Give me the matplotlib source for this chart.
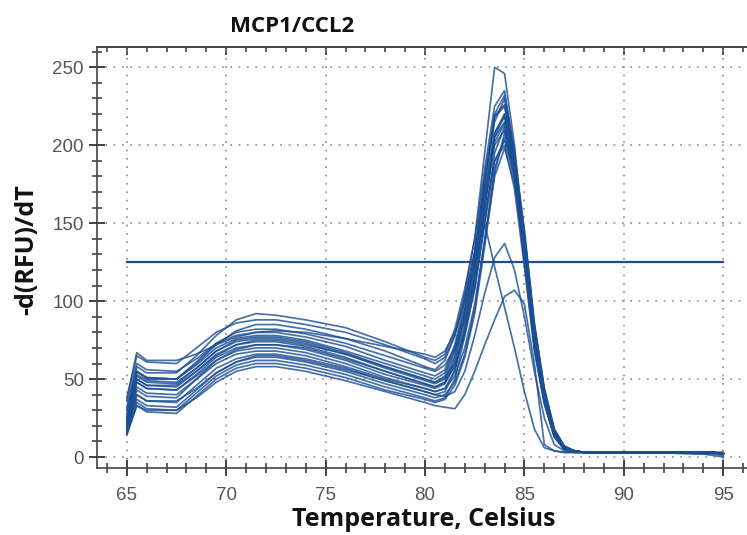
import matplotlib
matplotlib.use("Agg")
import matplotlib.pyplot as plt
from matplotlib.ticker import MultipleLocator

title = "MCP1/CCL2"
xlabel = "Temperature, Celsius"
ylabel = "-d(RFU)/dT"
threshold = 125

temps = [65, 65.5, 66, 67.5, 68.5, 69.5, 70.5, 71.5, 72.5, 74, 76, 78, 80, 80.5, 81,
         81.5, 82, 82.5, 83, 83.5, 84, 84.5, 85, 85.5, 86, 86.5, 87, 87.5, 88, 91, 94, 94.5, 95]

c1 = [38, 67, 62, 62, 66, 72, 77, 80, 81, 80, 76, 71, 66, 64, 68, 80, 100, 130, 175, 215, 230, 190, 140, 82, 42, 17, 7, 4, 3, 3, 3, 3, 2]
c2 = [30, 58, 54, 54, 65, 78, 88, 92, 91, 88, 83, 74, 64, 62, 66, 82, 108, 140, 185, 225, 235, 195, 130, 72, 36, 14, 6, 4, 3, 3, 3, 3, 2]
c3 = [25, 55, 50, 50, 60, 72, 81, 85, 85, 82, 76, 68, 58, 56, 62, 78, 105, 140, 195, 250, 246, 200, 135, 75, 38, 15, 6, 4, 3, 3, 3, 3, 2]
c4 = [22, 50, 46, 46, 55, 65, 72, 75, 75, 72, 66, 58, 50, 48, 52, 68, 95, 125, 150, 122, 96, 70, 42, 18, 6, 4, 3, 3, 3, 3, 3, 3, 2]
c5 = [18, 40, 36, 36, 44, 54, 61, 65, 65, 62, 56, 49, 42, 40, 39, 42, 55, 78, 105, 128, 137, 120, 90, 55, 25, 8, 4, 3, 3, 3, 3, 3, 2]
c6 = [15, 33, 30, 30, 38, 48, 55, 58, 58, 55, 49, 42, 35, 33, 32, 31, 40, 55, 72, 88, 103, 107, 98, 60, 8, 4, 3, 3, 3, 3, 2, 1, 0]
c7 = [36, 65, 61, 60, 70, 80, 86, 88, 88, 85, 80, 72, 63, 60, 64, 78, 102, 132, 178, 218, 225, 192, 145, 85, 44, 18, 7, 4, 3, 3, 3, 3, 2]
c8 = [28, 55, 51, 50, 61, 73, 80, 82, 82, 79, 73, 65, 57, 55, 59, 70, 88, 115, 160, 205, 220, 188, 138, 80, 40, 16, 6, 4, 3, 3, 3, 3, 2]
c9 = [24, 55, 51, 50, 59, 70, 76, 78, 78, 75, 68, 60, 52, 50, 54, 70, 95, 126, 168, 205, 215, 182, 126, 70, 35, 13, 5, 4, 3, 3, 3, 3, 3]
c10 = [26, 53, 49, 48, 57, 68, 74, 76, 76, 73, 66, 57, 49, 47, 50, 65, 92, 124, 170, 208, 218, 190, 142, 84, 42, 17, 7, 4, 3, 3, 3, 3, 2]
c11 = [20, 50, 46, 45, 55, 66, 72, 74, 74, 71, 64, 55, 47, 45, 48, 58, 78, 108, 150, 195, 212, 184, 135, 78, 38, 15, 6, 4, 3, 3, 3, 3, 2]
c12 = [22, 48, 44, 43, 53, 64, 70, 72, 72, 69, 62, 53, 46, 44, 47, 60, 88, 120, 162, 200, 210, 178, 125, 70, 35, 13, 5, 3, 3, 3, 3, 3, 2]
c13 = [19, 48, 44, 43, 52, 62, 68, 70, 70, 67, 60, 51, 44, 42, 44, 52, 70, 98, 140, 185, 205, 182, 138, 82, 42, 16, 6, 4, 3, 3, 3, 3, 3]
c14 = [17, 45, 41, 40, 50, 60, 66, 68, 68, 65, 58, 50, 44, 42, 44, 56, 82, 114, 155, 190, 200, 172, 122, 68, 34, 13, 5, 4, 3, 3, 3, 3, 2]
c15 = [21, 43, 39, 38, 50, 62, 69, 72, 72, 70, 63, 55, 47, 45, 48, 63, 92, 126, 175, 220, 232, 196, 145, 86, 44, 18, 7, 4, 3, 3, 3, 3, 2]
c16 = [16, 40, 36, 35, 46, 57, 63, 66, 66, 63, 57, 49, 42, 40, 42, 55, 84, 118, 165, 208, 220, 186, 130, 74, 37, 14, 6, 4, 3, 3, 3, 3, 2]
c17 = [18, 37, 33, 32, 43, 54, 61, 64, 64, 61, 55, 47, 40, 38, 40, 48, 66, 95, 138, 180, 198, 176, 132, 78, 38, 15, 6, 4, 3, 3, 3, 3, 2]
c18 = [15, 35, 31, 30, 41, 52, 59, 62, 62, 59, 53, 45, 38, 36, 38, 50, 78, 112, 160, 202, 214, 182, 128, 72, 36, 14, 6, 4, 3, 3, 3, 3, 2]
c19 = [14, 33, 29, 28, 39, 50, 57, 60, 60, 57, 51, 43, 37, 35, 37, 46, 64, 92, 135, 182, 208, 186, 140, 84, 42, 16, 6, 4, 3, 3, 2, 2, 1]
c20 = [32, 60, 56, 55, 63, 73, 78, 80, 80, 77, 71, 62, 54, 52, 56, 72, 100, 132, 180, 219, 226, 190, 133, 76, 38, 15, 6, 4, 3, 3, 3, 3, 2]
c21 = [23, 52, 48, 47, 57, 68, 75, 77, 77, 74, 67, 58, 50, 48, 51, 60, 80, 108, 150, 190, 203, 180, 136, 80, 40, 15, 6, 4, 3, 3, 3, 3, 2]

curves = [c1, c2, c3, c4, c5, c6, c7, c8, c9, c10, c11, c12, c13, c14, c15,
          c16, c17, c18, c19, c20, c21]

xticks = [65, 70, 75, 80, 85, 90, 95]
yticks = [0, 50, 100, 150, 200, 250]

W, H = 747, 535
fig = plt.figure(figsize=(W / 100, H / 100), dpi=100)
ax = fig.add_axes([97 / W, 67 / H, 666 / W, 421 / H])
ax.set_xlim(63.5, 97.0)
ax.set_ylim(-7, 263)

for c in curves:
    ax.plot(temps, c, color="#1a4d92", lw=1.25, alpha=0.8, solid_joinstyle="round")

ax.plot([temps[0], temps[-1]], [threshold, threshold], color="#1d4f8c", lw=1.6)

ax.set_xticks(xticks)
ax.set_yticks(yticks)
ax.xaxis.set_minor_locator(MultipleLocator(1))
ax.yaxis.set_minor_locator(MultipleLocator(10))
ax.grid(True, which="major", color="#8a8a8a", linestyle=(0, (1, 4)), lw=1.2)

ax.spines["right"].set_visible(False)
for s in ["left", "bottom", "top"]:
    ax.spines[s].set_color("#444444")
    ax.spines[s].set_linewidth(1.2)

ax.tick_params(axis="both", which="major", direction="inout", length=11, width=1.3,
               color="#333333", labelcolor="#555555", labelsize=13.5)
ax.tick_params(axis="both", which="minor", direction="inout", length=7, width=1.1,
               color="#333333")
ax.tick_params(axis="x", which="major", pad=8)
ax.tick_params(axis="y", which="major", pad=4)
for lbl in ax.get_xticklabels() + ax.get_yticklabels():
    lbl.set_family("Liberation Sans")

top = ax.secondary_xaxis("top")
top.set_xticks(xticks)
top.xaxis.set_minor_locator(MultipleLocator(1))
top.tick_params(which="major", direction="in", length=6, width=1.2, color="#333333",
                labeltop=False)
top.tick_params(which="minor", direction="in", length=3.5, width=1.1, color="#333333")
top.spines["top"].set_color("#444444")
top.spines["top"].set_linewidth(1.2)

fig.text(292 / W, 1 - 26 / H, title, ha="center", va="center", fontsize=16,
         fontweight="bold", family="Open Sans", color="#111111")
fig.text(424 / W, 1 - 519 / H, xlabel, ha="center", va="center", fontsize=18,
         fontweight="bold", family="Open Sans", color="#111111")
fig.text(27 / W, 1 - 250 / H, ylabel, ha="center", va="center", fontsize=18,
         fontweight="bold", family="Open Sans", color="#111111", rotation=90)

fig.savefig("out.png", dpi=100)
